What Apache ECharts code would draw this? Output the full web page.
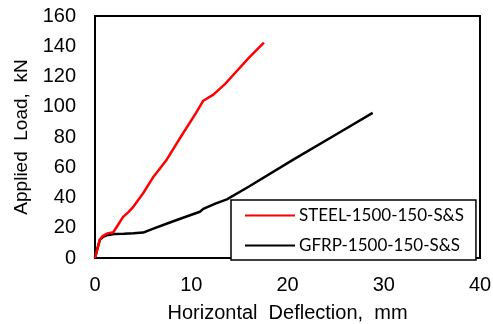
<!DOCTYPE html>
<html>
<head>
<meta charset="utf-8">
<script src="https://cdn.jsdelivr.net/npm/echarts@6/dist/echarts.min.js"></script>
<style>html,body{margin:0;padding:0;background:#fff;}#c{width:493px;height:324px;}</style>
</head>
<body>
<div id="c"></div>
<script>
const seriesNames = ['STEEL-1500-150-S&S', 'GFRP-1500-150-S&S'];
const steelX = [0, 0.25, 0.5, 0.8, 1.2, 1.9, 2.4, 2.9, 3.5, 4.0, 5.0, 6.0, 7.45, 9.0, 10.5, 11.25, 12.3, 13.5, 14.5, 16.0, 17.55];
const steelY = [0, 6, 12, 14.5, 16, 17, 22, 27, 30.5, 34, 42.8, 53, 65, 81, 96, 104, 108, 115, 122, 132.5, 142.4];
const gfrpX = [0, 0.2, 0.5, 0.85, 1.2, 2.0, 3.0, 4.0, 5.0, 6.0, 7.5, 9.0, 10.9, 11.25, 12.5, 13.7, 16.0, 20.6, 25.0, 28.85];
const gfrpY = [0, 5, 12, 14, 15, 15.8, 16, 16.3, 16.8, 19.3, 22.8, 26.3, 30.6, 32.5, 36, 38.8, 47.3, 65, 81.5, 96];
const xTicks = {min: 0, max: 40, interval: 10};
const yTicks = {min: 0, max: 160, interval: 20};
const xTitle = 'Horizontal\u00a0 Deflection,\u00a0 mm';
const yTitle = 'Applied\u00a0 Load,\u00a0 kN';

const zip = (xs, ys) => xs.map((x, i) => [x, ys[i]]);
const chart = echarts.init(document.getElementById('c'), null, {renderer: 'canvas'});
const axisFont = {color: '#000', fontSize: 20, fontFamily: 'Liberation Sans, Arial, sans-serif'};
chart.setOption({
  animation: false,
  backgroundColor: '#fff',
  grid: {left: 95, right: 13, top: 16, bottom: 66, show: true, borderColor: '#000', borderWidth: 2,
         containLabel: false, outerBoundsMode: 'none'},
  xAxis: {
    type: 'value', min: xTicks.min, max: xTicks.max, interval: xTicks.interval,
    name: xTitle, nameLocation: 'middle', nameGap: 45,
    nameTextStyle: Object.assign({}, axisFont, {fontSize: 20}),
    axisLine: {show: true, lineStyle: {color: '#000', width: 2}},
    axisTick: {show: false}, splitLine: {show: false},
    axisLabel: Object.assign({margin: 17}, axisFont)
  },
  yAxis: {
    type: 'value', min: yTicks.min, max: yTicks.max, interval: yTicks.interval,
    name: yTitle, nameLocation: 'middle', nameGap: 64,
    nameTextStyle: Object.assign({}, axisFont, {fontSize: 19}),
    axisLine: {show: true, lineStyle: {color: '#000', width: 2}},
    axisTick: {show: false}, splitLine: {show: false},
    axisLabel: Object.assign({margin: 19}, axisFont)
  },
  legend: {
    orient: 'vertical', left: 231, top: 200,
    data: seriesNames,
    itemWidth: 50, itemHeight: 14, itemGap: 13,
    padding: [7, 12, 6, 14],
    borderColor: '#000', borderWidth: 1.5,
    backgroundColor: '#fff',
    textStyle: {color: '#000', fontSize: 17, fontFamily: 'Lato, Noto Sans, sans-serif', padding: [0, 0, 0, -1]},
    icon: 'path://M0,6L50,6L50,8L0,8Z'
  },
  series: [
    {name: seriesNames[0], type: 'line', data: zip(steelX, steelY), showSymbol: false, symbol: 'none',
     lineStyle: {color: '#ff0000', width: 2.5}, itemStyle: {color: '#ff0000'}, z: 3},
    {name: seriesNames[1], type: 'line', data: zip(gfrpX, gfrpY), showSymbol: false, symbol: 'none',
     lineStyle: {color: '#000', width: 2.5}, itemStyle: {color: '#000'}, z: 2}
  ]
});
</script>
</body>
</html>
